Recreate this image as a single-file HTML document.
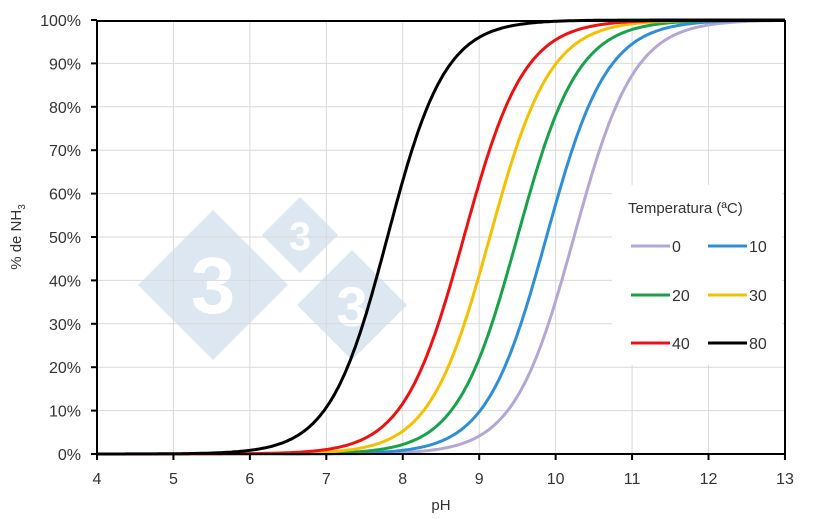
<!DOCTYPE html><html><head><style>body{margin:0;background:#fff}svg{display:block}text{font-family:"Liberation Sans",sans-serif;fill:#333}</style></head><body>
<svg id="s" width="820" height="519" xmlns="http://www.w3.org/2000/svg">
<g fill="#dde7f1">
<polygon points="213,210 288,285 213,360 138,285"/>
<polygon points="300,197 338,235 300,273 262,235"/>
<polygon points="352,250 407,305 352,360 297,305"/>
</g>
<g font-weight="bold">
<text x="213" y="313" font-size="80" text-anchor="middle" style="fill:#fff">3</text>
<text x="300" y="250" font-size="40" text-anchor="middle" style="fill:#fff">3</text>
<text x="352" y="326" font-size="56" text-anchor="middle" style="fill:#fff">3</text>
</g>
<g id="grid" stroke="#d9d9d9" stroke-width="1"></g>
<g id="curves" fill="none" stroke-width="3"></g>
<rect x="612" y="185" width="170" height="180" fill="#fff"/>
<text x="628" y="213" font-size="15">Temperatura (ªC)</text>
<g stroke-width="3">
<line x1="631" y1="246" x2="670" y2="246" stroke="#b4a7d6"/><text x="672" y="252" font-size="16">0</text>
<line x1="708" y1="246" x2="747" y2="246" stroke="#2e8fd8"/><text x="749" y="252" font-size="16">10</text>
<line x1="631" y1="295" x2="670" y2="295" stroke="#17a34a"/><text x="672" y="301" font-size="16">20</text>
<line x1="708" y1="295" x2="747" y2="295" stroke="#f5c000"/><text x="749" y="301" font-size="16">30</text>
<line x1="631" y1="343" x2="670" y2="343" stroke="#ee1111"/><text x="672" y="349" font-size="16">40</text>
<line x1="708" y1="343" x2="747" y2="343" stroke="#000"/><text x="749" y="349" font-size="16">80</text>
</g>
<g stroke="#000" stroke-width="2" fill="none">
<polyline points="97,21 785,21 785,454"/>
<line x1="97" y1="20" x2="97" y2="455"/>
<line x1="96" y1="454" x2="786" y2="454"/>
</g>
<g id="ticks" stroke="#000" stroke-width="2"></g>
<g id="lab" font-size="16"></g>
<text x="441" y="510" font-size="15" text-anchor="middle">pH</text>
<text transform="translate(21,237) rotate(-90)" font-size="15" text-anchor="middle">% de NH<tspan font-size="10" dy="4">3</tspan></text>
</svg>
<script>
const NS="http://www.w3.org/2000/svg";
const X=p=>97+(p-4)*76.44, Y=v=>454-v*434;
function el(g,t,a,txt){const e=document.createElementNS(NS,t);for(const k in a)e.setAttribute(k,a[k]);if(txt!==undefined)e.textContent=txt;document.getElementById(g).appendChild(e);}
for(let p=5;p<=12;p++)el("grid","line",{x1:X(p),y1:21,x2:X(p),y2:454});
for(let i=1;i<=9;i++)el("grid","line",{x1:97,y1:Y(i/10),x2:785,y2:Y(i/10)});
for(let p=4;p<=13;p++){el("ticks","line",{x1:X(p),y1:454,x2:X(p),y2:460});el("lab","text",{x:X(p),y:484,"text-anchor":"middle"},p);}
for(let i=0;i<=10;i++){el("ticks","line",{x1:91,y1:Y(i/10),x2:97,y2:Y(i/10)});el("lab","text",{x:81,y:Y(i/10)+6,"text-anchor":"end"},(i*10)+"%");}
const C=[[10.24,"#b4a7d6",1.1],[9.88,"#2e8fd8",1.1],[9.5,"#17a34a",1.1],[9.14,"#f5c000",1.1],[8.8,"#ee1111",1.1],[7.8,"#000",1.15]];
for(const [k,c,s] of C){let d="";for(let p=4;p<=13.001;p+=0.02){const v=1/(1+Math.pow(10,s*(k-p)));d+=(d?"L":"M")+X(p).toFixed(1)+","+Y(v).toFixed(1);}el("curves","path",{d:d,stroke:c});}
</script>
</body></html>
